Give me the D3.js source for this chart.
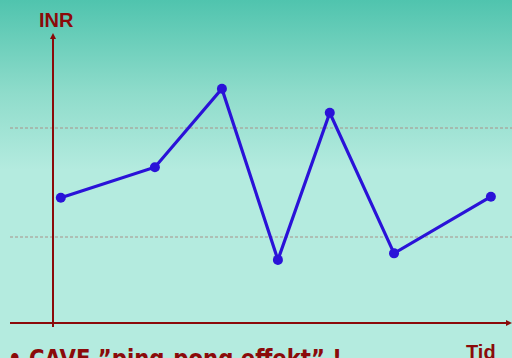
<!DOCTYPE html>
<html><head><meta charset="utf-8">
<script src="https://cdn.jsdelivr.net/npm/d3@7"></script>
<style>html,body{margin:0;padding:0;overflow:hidden;}svg{display:block;}</style>
</head><body>
<script>
const times = [1.7, 22.2, 36.8, 49.0, 60.3, 74.3, 95.4];
const inrValues = [2.36, 2.64, 3.36, 1.79, 3.14, 1.85, 2.37];
const rangeLines = [2, 3];
const yLabel = "INR";
const xLabel = "Tid";
const note = "• CAVE ”ping-pong effekt” !";

const W = 512, H = 358;
const svg = d3.select("body").append("svg").attr("width", W).attr("height", H);
const defs = svg.append("defs");
const g = defs.append("linearGradient").attr("id","bg").attr("x1",0).attr("y1",0).attr("x2",0)
  .attr("gradientUnits","userSpaceOnUse").attr("y2",170);
g.append("stop").attr("offset","0").attr("stop-color","#50c4ae");
g.append("stop").attr("offset","0.55").attr("stop-color","#8fdccb");
g.append("stop").attr("offset","1").attr("stop-color","#b4ebdf");
svg.append("rect").attr("width",W).attr("height",H).attr("fill","url(#bg)");

const x = d3.scaleLinear().domain([0, 100]).range([53, 512]);
const y = d3.scaleLinear().domain([1, 4]).range([346, 19]);

svg.selectAll("line.grid").data(rangeLines).enter().append("line")
  .attr("x1", 10).attr("x2", 512).attr("y1", d => y(d)).attr("y2", d => y(d))
  .attr("stroke", "#a8928a").attr("stroke-width", 1).attr("stroke-dasharray", "3,2");

const axisColor = "#8b0a0a";
const yBase = 323;
svg.append("line").attr("x1",10).attr("x2",509).attr("y1",yBase).attr("y2",yBase)
  .attr("stroke",axisColor).attr("stroke-width",2);
svg.append("path").attr("d",`M512,${yBase} L506,${yBase-3} L506,${yBase+3} Z`).attr("fill",axisColor);
svg.append("line").attr("x1",53).attr("x2",53).attr("y1",38).attr("y2",327)
  .attr("stroke",axisColor).attr("stroke-width",2);
svg.append("path").attr("d",`M53,33 L50,39 L56,39 Z`).attr("fill",axisColor);

const line = d3.line().x((d,i) => x(times[i])).y(d => y(d));
svg.append("path").datum(inrValues).attr("d", line).attr("fill","none")
  .attr("stroke","#2a12d8").attr("stroke-width",3.2).attr("stroke-linejoin","miter");
svg.selectAll("circle").data(inrValues).enter().append("circle")
  .attr("cx",(d,i)=>x(times[i])).attr("cy",d=>y(d)).attr("r",5).attr("fill","#2a12d8");

svg.append("text").attr("x",39).attr("y",27).text(yLabel)
  .attr("font-family","Liberation Sans, Arial, sans-serif").attr("font-weight","bold")
  .attr("font-size",20).attr("fill","#8b0a0a");
svg.append("text").attr("x",466).attr("y",359).text(xLabel)
  .attr("font-family","Liberation Sans, Arial, sans-serif").attr("font-weight","bold")
  .attr("font-size",20).attr("fill","#8b0a0a");
svg.append("text").attr("x",8).attr("y",367).text(note)
  .attr("font-family","DejaVu Sans, Verdana, sans-serif").attr("font-weight","bold")
  .attr("font-size",24).attr("fill","#8b0a0a")
  .attr("textLength",334).attr("lengthAdjust","spacingAndGlyphs");
</script>
</body></html>
